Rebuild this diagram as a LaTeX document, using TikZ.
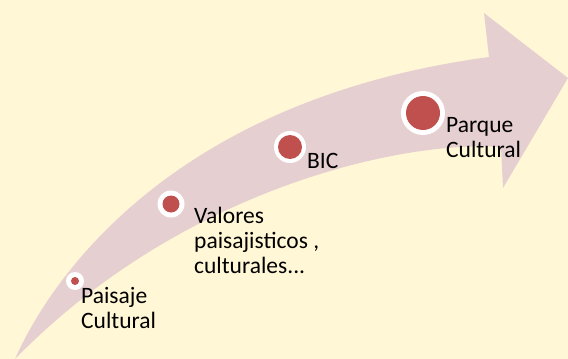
\documentclass[tikz,border=0pt]{standalone}
\usepackage{fontspec}
\setmainfont{Carlito}
\definecolor{bgcream}{HTML}{FFF7D5}
\definecolor{arrowpink}{HTML}{E6CFD0}
\definecolor{dotred}{HTML}{C0504D}
\tikzset{
  ring/.style={circle, fill=white, inner sep=0pt},
  dot/.style={circle, fill=dotred, inner sep=0pt},
  lbl/.style={anchor=base west, inner sep=0pt, align=left, text=black,
              font=\fontsize{23.5}{25}\selectfont}
}
\begin{document}
\begin{tikzpicture}[x=1pt, y=-1pt]
  \fill[bgcream] (0,0) rectangle (568,359);
  \useasboundingbox (0,0) rectangle (568,359);
  % curved arrow
  \coordinate (tail) at (15,359);
  \coordinate (un) at (489,57);
  \coordinate (ht) at (484,13);
  \coordinate (tip) at (568,78);
  \coordinate (hb) at (503,188);
  \coordinate (ln) at (501,147);
  \fill[arrowpink] (tail) .. controls (50,280) and (170,100) .. (un)
     -- (ht) -- (tip) -- (hb) -- (ln)
     .. controls (400,140) and (180,190) .. (tail) -- cycle;
  % milestones
  \node[ring, minimum size=18pt] (r1) at (75,281) {};
  \node[dot, minimum size=8pt] (d1) at (r1) {};
  \node[ring, minimum size=27pt] (r2) at (171,204) {};
  \node[dot, minimum size=17pt] (d2) at (r2) {};
  \node[ring, minimum size=32pt] (r3) at (290,147) {};
  \node[dot, minimum size=24pt] (d3) at (r3) {};
  \node[ring, minimum size=44pt] (r4) at (423,113) {};
  \node[dot, minimum size=34pt] (d4) at (r4) {};
  % labels (base anchor = baseline of last line)
  \node[lbl] (t1) at (81,328) {Paisaje\\Cultural};
  \node[lbl] (t2) at (194,273) {Valores\\paisajisticos ,\\culturales...};
  \node[lbl] (t3) at (307,168) {BIC};
  \node[lbl] (t4) at (446,157) {Parque\\Cultural};
\end{tikzpicture}
\end{document}
